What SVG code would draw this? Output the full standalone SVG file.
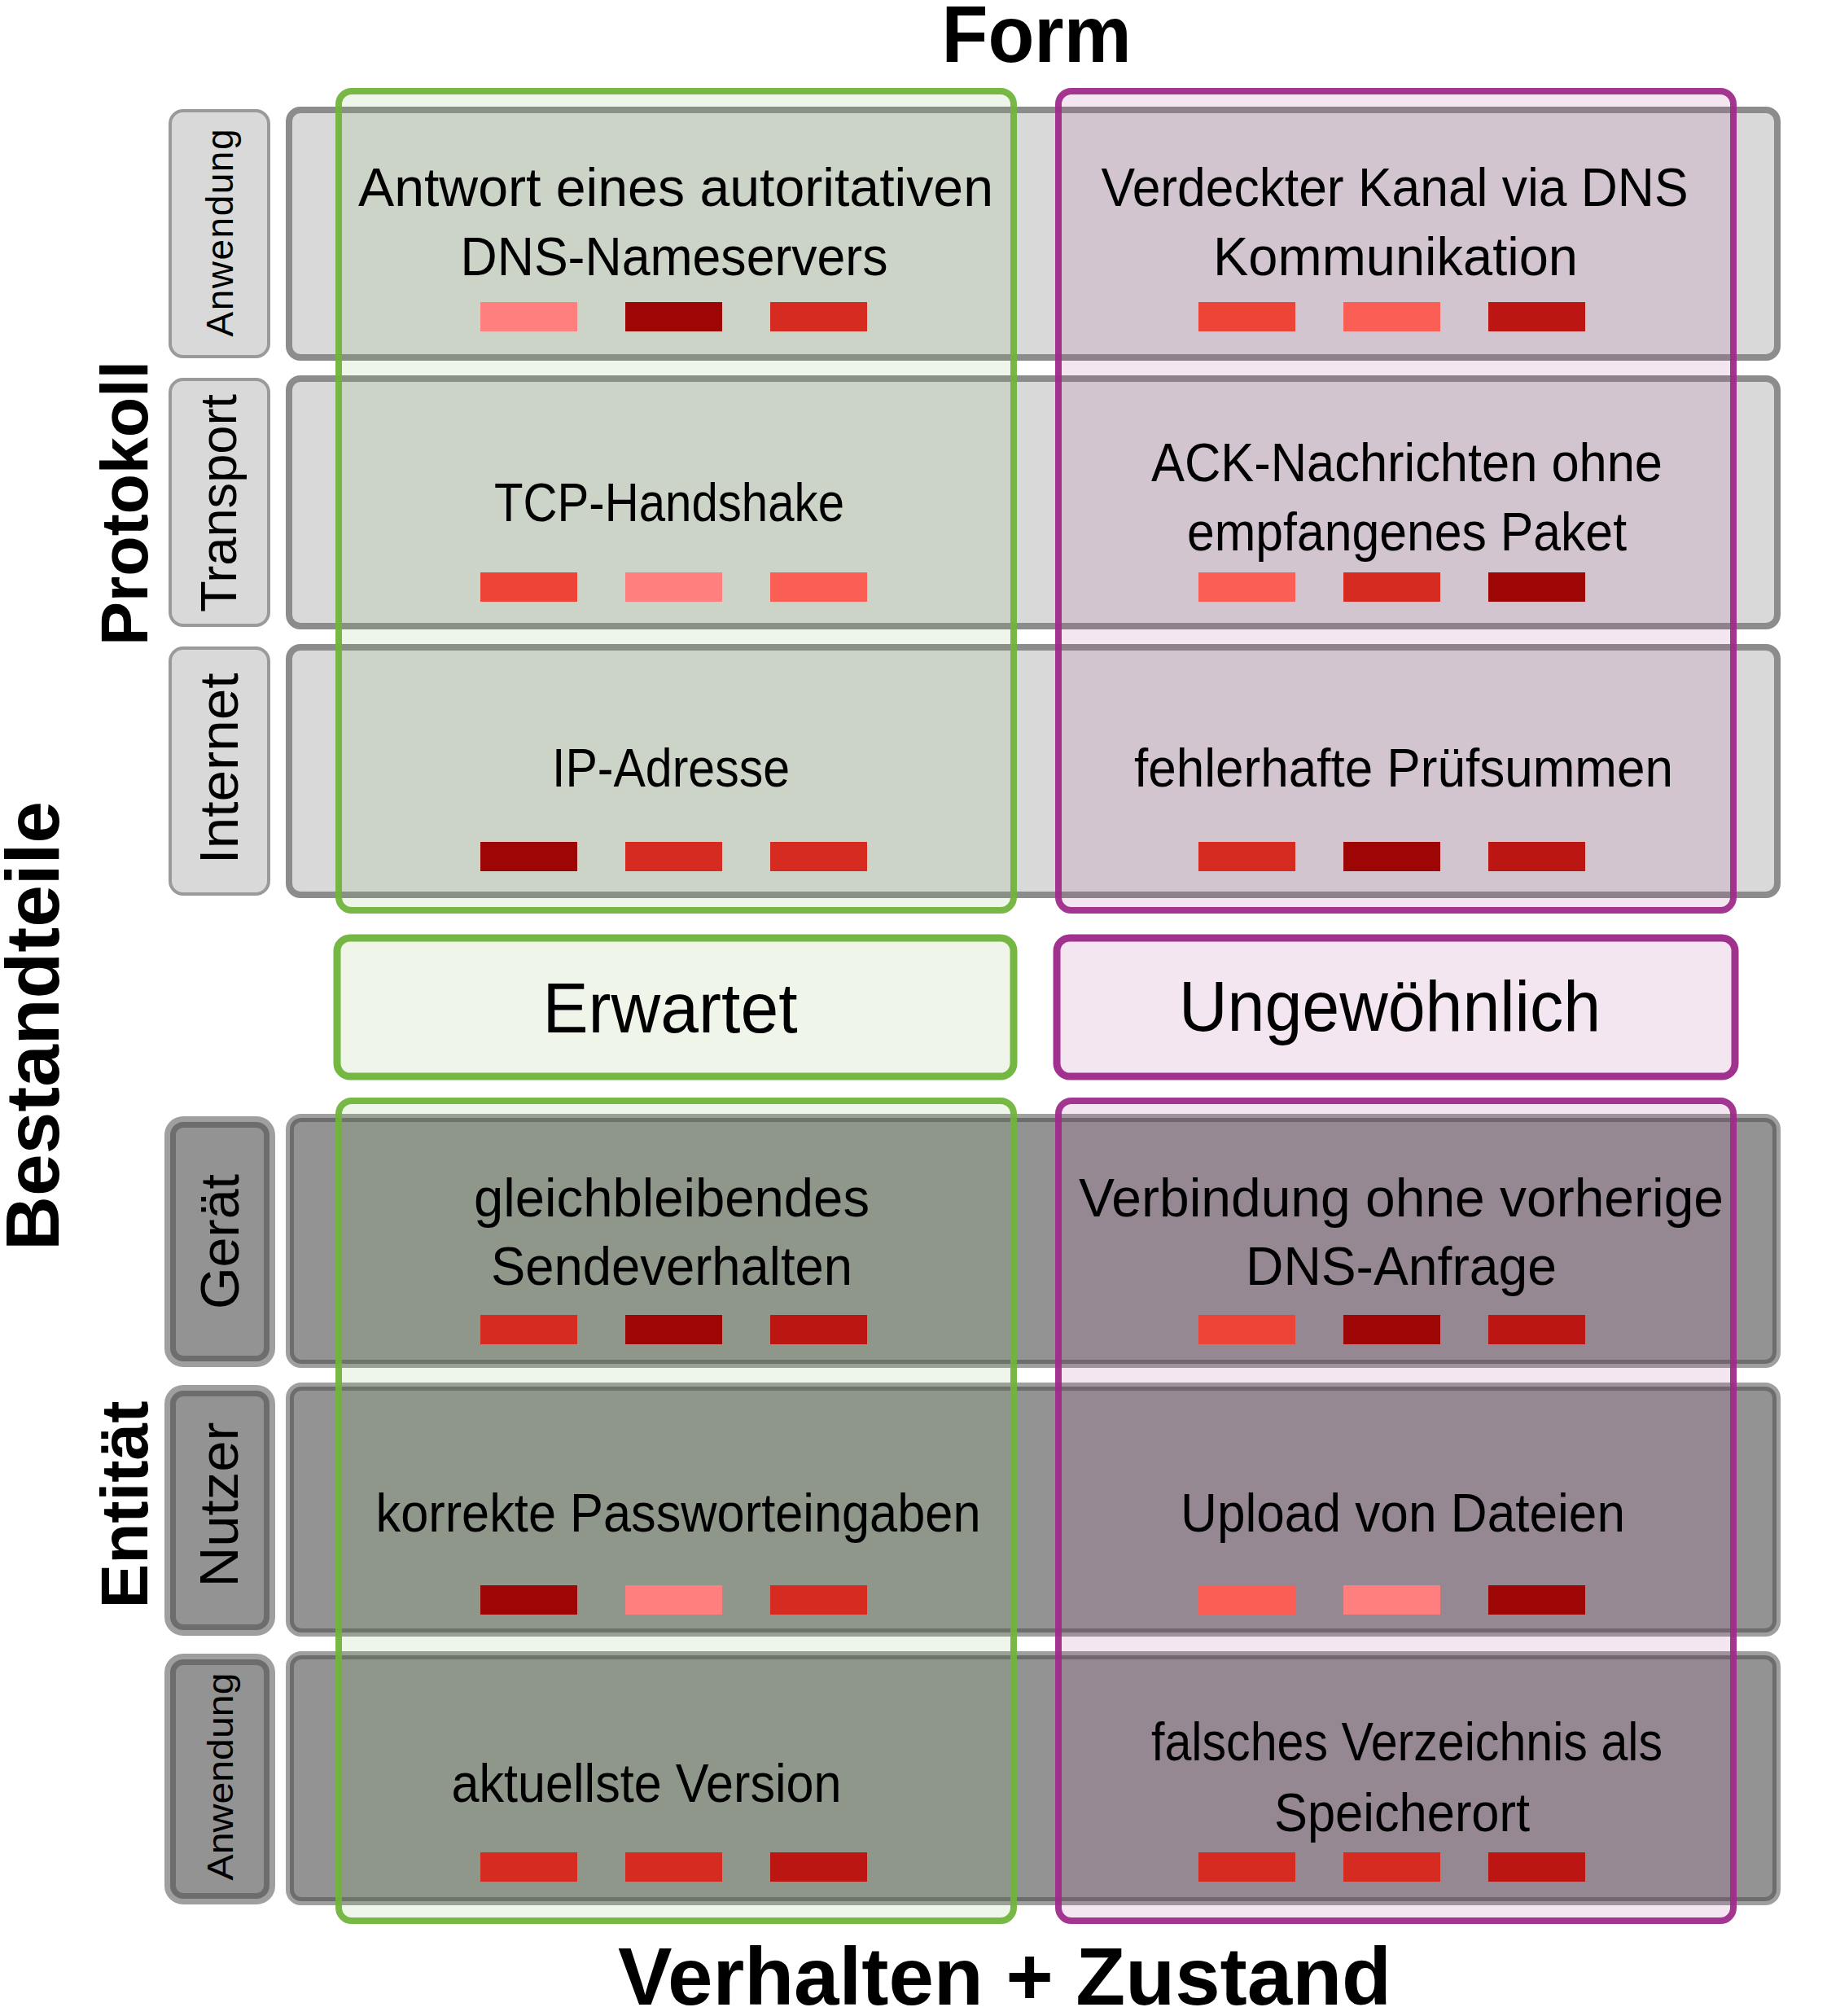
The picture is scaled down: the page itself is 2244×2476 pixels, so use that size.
<svg xmlns="http://www.w3.org/2000/svg" width="2244" height="2476" viewBox="0 0 2244 2476">
<style>
.row1{fill:#d9d9d9;stroke:#8c8c8c;stroke-width:8}
.lab1{fill:#d9d9d9;stroke:#9a9a9a;stroke-width:4}
.row2{fill:#939393;stroke:#4e4e4e;stroke-opacity:0.54;stroke-width:10}
.lab2{fill:#939393;stroke:#4e4e4e;stroke-opacity:0.54;stroke-width:14}
.gcol{fill:#70ad47;fill-opacity:0.12;stroke:#70b43c;stroke-opacity:0.95;stroke-width:8}
.pcol{fill:#a33f93;fill-opacity:0.13;stroke:#9e2b8b;stroke-opacity:0.95;stroke-width:8}
.gbox{fill:#eff5e9;stroke:#74b843;stroke-width:9}
.pbox{fill:#f3e6f1;stroke:#a0318e;stroke-width:9}
.t{font-family:"Liberation Sans",Arial,sans-serif;fill:#000;text-anchor:middle}
.m{font-size:66px}
.b{font-family:"Liberation Sans",Arial,sans-serif;font-weight:bold;fill:#000;text-anchor:middle}
.c1{fill:#ff7f7f}.c2{fill:#9e0505}.c3{fill:#d52b20}.c4{fill:#ec4436}.c5{fill:#fa5e55}.c6{fill:#bb1612}
</style>
<rect x="0" y="0" width="2244" height="2476" fill="#ffffff"/>

<g id="titles">
<text class="b" x="1273" y="76" font-size="98" textLength="233" lengthAdjust="spacingAndGlyphs">Form</text>
<text class="b" x="1234" y="2462" font-size="100" textLength="950" lengthAdjust="spacingAndGlyphs">Verhalten + Zustand</text>
<text class="b" font-size="93" transform="translate(72,1260) rotate(-90)" textLength="552" lengthAdjust="spacingAndGlyphs">Bestandteile</text>
<text class="b" font-size="82" transform="translate(181,618) rotate(-90)" textLength="350" lengthAdjust="spacingAndGlyphs">Protokoll</text>
<text class="b" font-size="82" transform="translate(181,1848) rotate(-90)" textLength="255" lengthAdjust="spacingAndGlyphs">Entität</text>
</g>

<g id="rows">
<rect class="row1" x="355" y="135" width="1828" height="304" rx="14"/>
<rect class="row1" x="355" y="465" width="1828" height="304" rx="14"/>
<rect class="row1" x="355" y="795" width="1828" height="304" rx="14"/>
<rect class="row2" x="356" y="1373" width="1826" height="302" rx="14"/>
<rect class="row2" x="356" y="1703" width="1826" height="302" rx="14"/>
<rect class="row2" x="356" y="2033" width="1826" height="302" rx="14"/>
</g>

<g id="layer-labels">
<g id="lab-anwendung1"><rect class="lab1" x="209" y="136" width="121" height="302" rx="16"/>
<text class="t" font-size="46" transform="translate(286,286) rotate(-90)" textLength="255" lengthAdjust="spacing">Anwendung</text></g>
<g id="lab-transport"><rect class="lab1" x="209" y="466" width="121" height="302" rx="16"/>
<text class="t" font-size="63" transform="translate(290,618) rotate(-90)" textLength="268" lengthAdjust="spacingAndGlyphs">Transport</text></g>
<g id="lab-internet"><rect class="lab1" x="209" y="796" width="121" height="302" rx="16"/>
<text class="t" font-size="66" transform="translate(292,944) rotate(-90)" textLength="235" lengthAdjust="spacingAndGlyphs">Internet</text></g>
<g id="lab-geraet"><rect class="lab2" x="209" y="1378" width="122" height="294" rx="16"/>
<text class="t" font-size="66" transform="translate(293,1525) rotate(-90)" textLength="166" lengthAdjust="spacingAndGlyphs">Gerät</text></g>
<g id="lab-nutzer"><rect class="lab2" x="209" y="1708" width="122" height="294" rx="16"/>
<text class="t" font-size="66" transform="translate(292,1848) rotate(-90)" textLength="203" lengthAdjust="spacingAndGlyphs">Nutzer</text></g>
<g id="lab-anwendung2"><rect class="lab2" x="209" y="2038" width="122" height="294" rx="16"/>
<text class="t" font-size="45" transform="translate(286,2182) rotate(-90)" textLength="255" lengthAdjust="spacingAndGlyphs">Anwendung</text></g>
</g>

<g id="columns">
<rect id="col-erwartet-top" class="gcol" x="416" y="112" width="829" height="1006" rx="16"/>
<rect id="col-ungew-top" class="pcol" x="1300" y="112" width="829" height="1006" rx="16"/>
<rect id="col-erwartet-bottom" class="gcol" x="416" y="1352" width="829" height="1007" rx="16"/>
<rect id="col-ungew-bottom" class="pcol" x="1300" y="1352" width="829" height="1007" rx="16"/>
</g>

<g id="erwartet"><rect class="gbox" x="414" y="1152" width="831" height="170" rx="16"/>
<text class="t" x="823" y="1268" font-size="88" textLength="313" lengthAdjust="spacingAndGlyphs">Erwartet</text></g>
<g id="ungewoehnlich"><rect class="pbox" x="1298" y="1152" width="833" height="170" rx="16"/>
<text class="t" x="1707" y="1266" font-size="88" textLength="518" lengthAdjust="spacingAndGlyphs">Ungewöhnlich</text></g>

<g id="cell-p1-g">
<text class="t m" x="830" y="253" textLength="780" lengthAdjust="spacingAndGlyphs">Antwort eines autoritativen</text>
<text class="t m" x="828" y="338" textLength="525" lengthAdjust="spacingAndGlyphs">DNS-Nameservers</text>
<rect class="c1" x="590" y="371" width="119" height="36"/><rect class="c2" x="768" y="371" width="119" height="36"/><rect class="c3" x="946" y="371" width="119" height="36"/>
</g>
<g id="cell-p1-u">
<text class="t m" x="1713" y="253" textLength="721" lengthAdjust="spacingAndGlyphs">Verdeckter Kanal via DNS</text>
<text class="t m" x="1714" y="338" textLength="448" lengthAdjust="spacingAndGlyphs">Kommunikation</text>
<rect class="c4" x="1472" y="371" width="119" height="36"/><rect class="c5" x="1650" y="371" width="119" height="36"/><rect class="c6" x="1828" y="371" width="119" height="36"/>
</g>
<g id="cell-p2-g">
<text class="t m" x="822" y="640" textLength="430" lengthAdjust="spacingAndGlyphs">TCP-Handshake</text>
<rect class="c4" x="590" y="703" width="119" height="36"/><rect class="c1" x="768" y="703" width="119" height="36"/><rect class="c5" x="946" y="703" width="119" height="36"/>
</g>
<g id="cell-p2-u">
<text class="t m" x="1728" y="591" textLength="628" lengthAdjust="spacingAndGlyphs">ACK-Nachrichten ohne</text>
<text class="t m" x="1728" y="676" textLength="540" lengthAdjust="spacingAndGlyphs">empfangenes Paket</text>
<rect class="c5" x="1472" y="703" width="119" height="36"/><rect class="c3" x="1650" y="703" width="119" height="36"/><rect class="c2" x="1828" y="703" width="119" height="36"/>
</g>
<g id="cell-p3-g">
<text class="t m" x="824" y="966" textLength="292" lengthAdjust="spacingAndGlyphs">IP-Adresse</text>
<rect class="c2" x="590" y="1034" width="119" height="36"/><rect class="c3" x="768" y="1034" width="119" height="36"/><rect class="c3" x="946" y="1034" width="119" height="36"/>
</g>
<g id="cell-p3-u">
<text class="t m" x="1724" y="966" textLength="662" lengthAdjust="spacingAndGlyphs">fehlerhafte Prüfsummen</text>
<rect class="c3" x="1472" y="1034" width="119" height="36"/><rect class="c2" x="1650" y="1034" width="119" height="36"/><rect class="c6" x="1828" y="1034" width="119" height="36"/>
</g>

<g id="cell-e1-g">
<text class="t m" x="825" y="1494" textLength="486" lengthAdjust="spacingAndGlyphs">gleichbleibendes</text>
<text class="t m" x="825" y="1578" textLength="444" lengthAdjust="spacingAndGlyphs">Sendeverhalten</text>
<rect class="c3" x="590" y="1615" width="119" height="36"/><rect class="c2" x="768" y="1615" width="119" height="36"/><rect class="c6" x="946" y="1615" width="119" height="36"/>
</g>
<g id="cell-e1-u">
<text class="t m" x="1721" y="1494" textLength="792" lengthAdjust="spacingAndGlyphs">Verbindung ohne vorherige</text>
<text class="t m" x="1721" y="1578" textLength="382" lengthAdjust="spacingAndGlyphs">DNS-Anfrage</text>
<rect class="c4" x="1472" y="1615" width="119" height="36"/><rect class="c2" x="1650" y="1615" width="119" height="36"/><rect class="c6" x="1828" y="1615" width="119" height="36"/>
</g>
<g id="cell-e2-g">
<text class="t m" x="833" y="1881" textLength="743" lengthAdjust="spacingAndGlyphs">korrekte Passworteingaben</text>
<rect class="c2" x="590" y="1947" width="119" height="36"/><rect class="c1" x="768" y="1947" width="119" height="36"/><rect class="c3" x="946" y="1947" width="119" height="36"/>
</g>
<g id="cell-e2-u">
<text class="t m" x="1723" y="1881" textLength="546" lengthAdjust="spacingAndGlyphs">Upload von Dateien</text>
<rect class="c5" x="1472" y="1947" width="119" height="36"/><rect class="c1" x="1650" y="1947" width="119" height="36"/><rect class="c2" x="1828" y="1947" width="119" height="36"/>
</g>
<g id="cell-e3-g">
<text class="t m" x="794" y="2213" textLength="479" lengthAdjust="spacingAndGlyphs">aktuellste Version</text>
<rect class="c3" x="590" y="2275" width="119" height="36"/><rect class="c3" x="768" y="2275" width="119" height="36"/><rect class="c6" x="946" y="2275" width="119" height="36"/>
</g>
<g id="cell-e3-u">
<text class="t m" x="1728" y="2162" textLength="628" lengthAdjust="spacingAndGlyphs">falsches Verzeichnis als</text>
<text class="t m" x="1722" y="2249" textLength="314" lengthAdjust="spacingAndGlyphs">Speicherort</text>
<rect class="c3" x="1472" y="2275" width="119" height="36"/><rect class="c3" x="1650" y="2275" width="119" height="36"/><rect class="c6" x="1828" y="2275" width="119" height="36"/>
</g>

<g id="connectors"></g>
</svg>
